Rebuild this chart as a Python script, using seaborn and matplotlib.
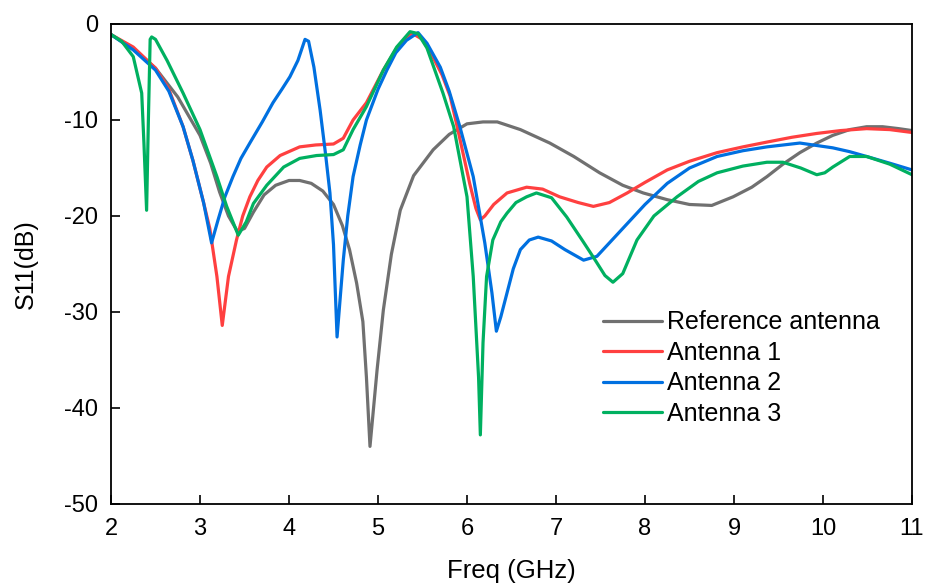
import numpy as np
import pandas as pd
import matplotlib
matplotlib.use("Agg")
import matplotlib.pyplot as plt
import seaborn as sns

# S11 curves (freq in GHz, S11 in dB)
f_ref = [2.0, 2.25, 2.5, 2.75, 3.0, 3.12, 3.22, 3.32, 3.42, 3.5, 3.6, 3.72, 3.85, 4.0, 4.12,
         4.25, 4.38, 4.5, 4.6, 4.68, 4.76, 4.83, 4.87, 4.91, 4.95, 4.99, 5.06, 5.15, 5.25, 5.4,
         5.62, 5.8, 6.0, 6.18, 6.34, 6.6, 6.93, 7.2, 7.49, 7.75, 7.98, 8.25, 8.5, 8.75, 8.99,
         9.2, 9.37, 9.55, 9.74, 9.93, 10.11, 10.3, 10.49, 10.67, 10.85, 11.0]
s_ref = [-1.1, -2.6, -4.6, -7.6, -11.6, -14.5, -17.5, -20.0, -21.6, -21.3, -19.6, -17.8, -16.8,
         -16.3, -16.3, -16.6, -17.4, -18.8, -21.0, -23.5, -27.0, -31.0, -36.8, -44.0, -40.0,
         -36.0, -29.8, -24.0, -19.4, -15.8, -13.1, -11.5, -10.4, -10.2, -10.2, -11.0, -12.4,
         -13.8, -15.5, -16.8, -17.6, -18.3, -18.8, -18.9, -18.0, -17.0, -15.9, -14.6, -13.4,
         -12.4, -11.6, -11.0, -10.7, -10.7, -10.9, -11.1]

f_a1 = [2.0, 2.25, 2.5, 2.65, 2.81, 2.92, 3.04, 3.11, 3.19, 3.25, 3.32, 3.41, 3.48, 3.56, 3.65,
        3.75, 3.9, 4.12, 4.3, 4.5, 4.61, 4.72, 4.87, 5.06, 5.21, 5.38, 5.5, 5.62, 5.72, 5.81,
        5.89, 6.03, 6.1, 6.15, 6.2, 6.3, 6.45, 6.67, 6.85, 7.04, 7.25, 7.42, 7.6, 7.8, 8.0,
        8.25, 8.5, 8.81, 9.1, 9.37, 9.65, 9.93, 10.2, 10.49, 10.75, 11.0]
s_a1 = [-1.1, -2.4, -4.6, -6.8, -10.7, -14.2, -18.6, -21.3, -26.3, -31.4, -26.3, -22.5, -20.0,
        -18.0, -16.3, -14.9, -13.7, -12.8, -12.6, -12.5, -11.9, -10.0, -8.2, -4.8, -2.5, -0.95,
        -1.6, -3.5, -5.3, -7.5, -10.7, -16.6, -19.2, -20.4, -20.0, -18.8, -17.6, -17.0, -17.2,
        -18.0, -18.6, -19.0, -18.6, -17.6, -16.5, -15.2, -14.3, -13.4, -12.8, -12.3, -11.8,
        -11.4, -11.1, -10.9, -11.0, -11.3]

f_a2 = [2.0, 2.25, 2.5, 2.65, 2.81, 2.92, 3.04, 3.13, 3.2, 3.28, 3.37, 3.46, 3.56, 3.7, 3.82,
        3.92, 4.01, 4.1, 4.18, 4.22, 4.28, 4.35, 4.41, 4.46, 4.5, 4.54, 4.58, 4.61, 4.66, 4.72,
        4.8, 4.87, 5.0, 5.1, 5.2, 5.32, 5.45, 5.55, 5.7, 5.8, 5.92, 6.07, 6.2, 6.28, 6.33,
        6.38, 6.45, 6.52, 6.6, 6.7, 6.8, 6.95, 7.1, 7.31, 7.46, 7.6, 7.8, 8.0, 8.25, 8.5, 8.81,
        9.1, 9.37, 9.74, 10.11, 10.3, 10.49, 10.75, 11.0]
s_a2 = [-1.1, -2.7, -4.8, -7.0, -10.7, -14.2, -18.6, -22.8, -20.5, -18.0, -15.9, -14.0, -12.4,
        -10.2, -8.2, -6.8, -5.5, -3.8, -1.6, -1.8, -4.5, -9.0, -13.5, -17.6, -23.0, -32.6,
        -28.0, -24.6, -20.0, -15.9, -12.6, -10.0, -6.8, -4.8, -3.0, -1.7, -0.9, -2.0, -4.5,
        -7.0, -10.7, -15.9, -22.8, -28.0, -32.0, -30.5, -28.0, -25.5, -23.5, -22.5, -22.2,
        -22.6, -23.5, -24.6, -24.2, -22.8, -20.8, -18.8, -16.6, -15.0, -13.8, -13.2, -12.8,
        -12.4, -12.9, -13.3, -13.8, -14.5, -15.2]

f_a3 = [2.0, 2.12, 2.25, 2.345, 2.37, 2.4, 2.42, 2.44, 2.457, 2.5, 2.63, 2.81, 3.0, 3.19, 3.3,
        3.43, 3.52, 3.6, 3.75, 3.94, 4.12, 4.31, 4.5, 4.61, 4.72, 4.87, 5.06, 5.21, 5.36, 5.45,
        5.55, 5.73, 5.85, 6.0, 6.07, 6.13, 6.15, 6.18, 6.22, 6.29, 6.38, 6.45, 6.55, 6.67,
        6.78, 6.95, 7.12, 7.3, 7.42, 7.55, 7.64, 7.75, 7.91, 8.1, 8.36, 8.6, 8.81, 9.1, 9.37,
        9.55, 9.75, 9.93, 10.02, 10.11, 10.3, 10.49, 10.75, 11.0]
s_a3 = [-1.1, -1.8, -3.4, -7.2, -12.4, -19.4, -10.0, -1.6, -1.35, -1.6, -3.8, -7.2, -11.0,
        -15.9, -19.0, -22.0, -20.6, -18.7, -16.8, -14.9, -14.0, -13.7, -13.6, -13.1, -11.0,
        -8.6, -4.8, -2.4, -0.8, -1.0, -2.5, -7.2, -10.7, -18.0, -26.3, -36.8, -42.8, -33.2,
        -26.3, -22.5, -20.6, -19.7, -18.6, -18.0, -17.6, -18.1, -20.1, -22.6, -24.3, -26.2,
        -26.9, -26.0, -22.5, -20.0, -18.0, -16.4, -15.5, -14.8, -14.4, -14.4, -15.0, -15.7,
        -15.5, -14.9, -13.8, -13.8, -14.6, -15.7]

names = ["Reference antenna", "Antenna 1", "Antenna 2", "Antenna 3"]
colors = ["#707070", "#FF4040", "#0070E0", "#00B060"]

frames = []
for name, f, s in zip(names, [f_ref, f_a1, f_a2, f_a3], [s_ref, s_a1, s_a2, s_a3]):
    frames.append(pd.DataFrame({"freq": f, "s11": s, "antenna": name}))
df = pd.concat(frames, ignore_index=True)

sns.set_style("ticks")
plt.rcParams["font.family"] = ["Liberation Sans", "DejaVu Sans"]
plt.rcParams["axes.unicode_minus"] = False
for k in ["text.color", "axes.labelcolor", "xtick.color", "ytick.color"]:
    plt.rcParams[k] = "black"

fig = plt.figure(figsize=(9.28, 5.84), dpi=100)
ax = fig.add_axes([111 / 928, 80 / 584, 801 / 928, 480 / 584])

sns.lineplot(data=df, x="freq", y="s11", hue="antenna", hue_order=names,
             palette=dict(zip(names, colors)), estimator=None, sort=False,
             linewidth=2.3, ax=ax)

ax.set_xlim(2, 11)
ax.set_ylim(-50, 0)
ax.set_xticks(range(2, 12))
ax.set_yticks(range(-50, 1, 10))
ax.tick_params(direction="in", length=6.5, width=1.2, labelsize=17)
ax.tick_params(axis="x", pad=10)
ax.tick_params(axis="y", pad=9)
for sp in ax.spines.values():
    sp.set_visible(True)
    sp.set_linewidth(1.3)
    sp.set_color("black")

ax.set_xlabel("Freq (GHz)", fontsize=18.5, labelpad=14)
ax.set_ylabel("S11(dB)", fontsize=18, labelpad=19)

ax.legend(loc="lower left", bbox_to_anchor=(0.614, 0.163), frameon=False, fontsize=18,
          handlelength=2.35, handletextpad=0.2, labelspacing=0.26, borderpad=0,
          borderaxespad=0)

fig.savefig("out.png", dpi=100)
